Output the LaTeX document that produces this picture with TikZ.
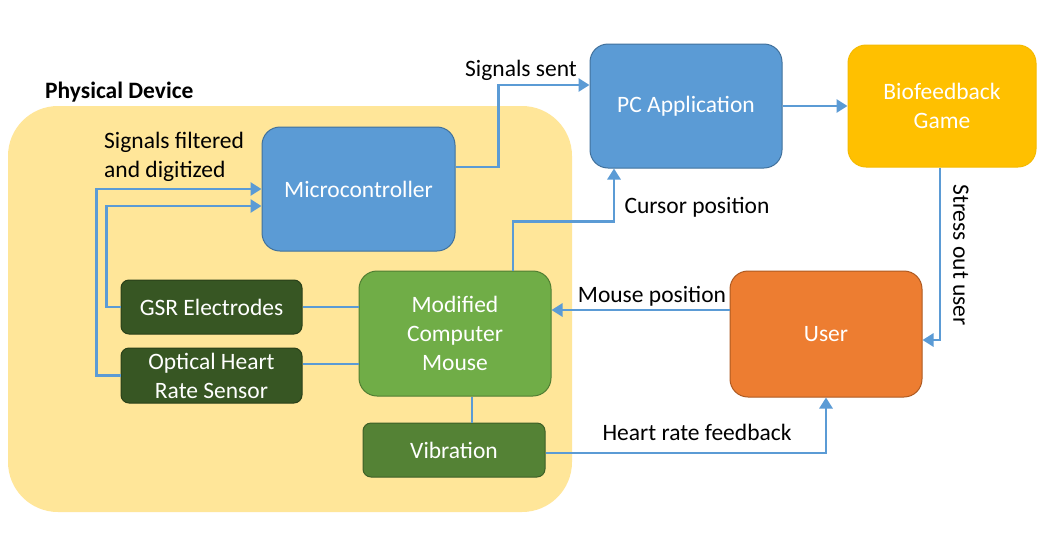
\documentclass[tikz,border=0pt]{standalone}
\usepackage{fontspec}
\setmainfont{Carlito}
\usetikzlibrary{arrows.meta,calc}
\definecolor{lineblue}{HTML}{5B9BD5}
\definecolor{devfill}{HTML}{FFE699}
\definecolor{mcblue}{HTML}{5B9BD5}
\definecolor{mcborder}{HTML}{41719C}
\definecolor{gold}{HTML}{FFC000}
\definecolor{goldborder}{HTML}{F5BA00}
\definecolor{orangefill}{HTML}{ED7D31}
\definecolor{orangeborder}{HTML}{AE5A21}
\definecolor{greenfill}{HTML}{70AD47}
\definecolor{greenborder}{HTML}{507E32}
\definecolor{darkgreen}{HTML}{375623}
\definecolor{darkgreenborder}{HTML}{2A4019}
\definecolor{midgreen}{HTML}{548235}
\definecolor{midgreenborder}{HTML}{3D5F27}
\begin{document}
\begin{tikzpicture}[x=1pt,y=-1pt,
  font=\fontsize{23.5}{29}\selectfont,
  box/.style={rounded corners=18pt, text=white, align=center, line width=1pt, inner sep=0pt},
  smallbox/.style={rounded corners=8pt, text=white, align=center, line width=1pt, inner sep=0pt},
  conn/.style={draw=lineblue, line width=2.8pt},
  arr/.style={conn, -{Triangle[width=13pt,length=11pt]}},
  lbl/.style={text=black, inner sep=0pt}]
\useasboundingbox (0,0) rectangle (1058,555);
\fill[white] (0,0) rectangle (1058,555);

% container
\node[fill=devfill, rounded corners=50pt, minimum width=564pt, minimum height=406pt, inner sep=0pt] (device) at (290,309) {};
\node[lbl, anchor=west, font=\fontsize{23.5}{29}\selectfont\bfseries] (devlbl) at (45,92) {Physical Device};

% boxes
\node[box, fill=mcblue, draw=mcborder, minimum width=193pt, minimum height=124pt] (micro) at (358.5,189) {Microcontroller};
\node[box, fill=mcblue, draw=mcborder, minimum width=192pt, minimum height=124pt] (pc) at (686,106) {PC Application};
\node[box, fill=gold, draw=goldborder, minimum width=188pt, minimum height=122pt] (bio) at (942,106) {Biofeedback\\Game};
\node[box, fill=orangefill, draw=orangeborder, minimum width=192pt, minimum height=126pt] (user) at (826,334) {User};
\node[box, fill=greenfill, draw=greenborder, minimum width=192pt, minimum height=125pt] (mouse) at (455,333.5) {Modified\\Computer\\Mouse};
\node[smallbox, fill=darkgreen, draw=darkgreenborder, minimum width=181pt, minimum height=54pt] (gsr) at (211.5,307) {GSR Electrodes};
\node[smallbox, fill=darkgreen, draw=darkgreenborder, minimum width=181pt, minimum height=55pt] (opt) at (211.5,375.5) {Optical Heart\\Rate Sensor};
\node[smallbox, fill=midgreen, draw=midgreenborder, minimum width=182pt, minimum height=54pt] (vib) at (454,450) {Vibration};

% connectors
\draw[arr] ([yshift=22pt]micro.east) -- ++(43,0) |- ([yshift=21pt]pc.west);
\draw[arr] (pc.east) -- (bio.west);
\draw[arr] ([xshift=-2pt]bio.south) |- ([yshift=-6pt]user.east);
\draw[arr] ([yshift=24pt]user.west) -- ([yshift=24pt]user.west -| mouse.east);
\draw[arr] ([xshift=58pt]mouse.north) -- ++(0,-49) -| ([xshift=-72pt]pc.south);
\draw[arr] ([yshift=-3pt]vib.east) -| (user.south);
\draw[conn] ([xshift=17pt]mouse.south) -- ([xshift=18pt]vib.north);
\draw[conn] (gsr.east) -- (gsr.east -| mouse.west);
\draw[conn] ([yshift=11.5pt]opt.east) -- ([yshift=11.5pt]opt.east -| mouse.west);
\draw[arr] (gsr.west) -- ++(-14,0) |- ([yshift=-17pt]micro.west);
\draw[arr] (opt.west) -- ++(-24,0) |- (micro.west);

% labels
\node[lbl] (l1) at (521,70) {Signals sent};
\node[lbl] (l2) at (697,207) {Cursor position};
\node[lbl] (l3) at (652,296) {Mouse position};
\node[lbl] (l4) at (697,432) {Heart rate feedback};
\node[lbl, rotate=-90] (l5) at (961,255) {Stress out user};
\node[lbl, anchor=west, align=left] (l6) at (104,157) {Signals filtered\\and digitized};
\end{tikzpicture}
\end{document}
